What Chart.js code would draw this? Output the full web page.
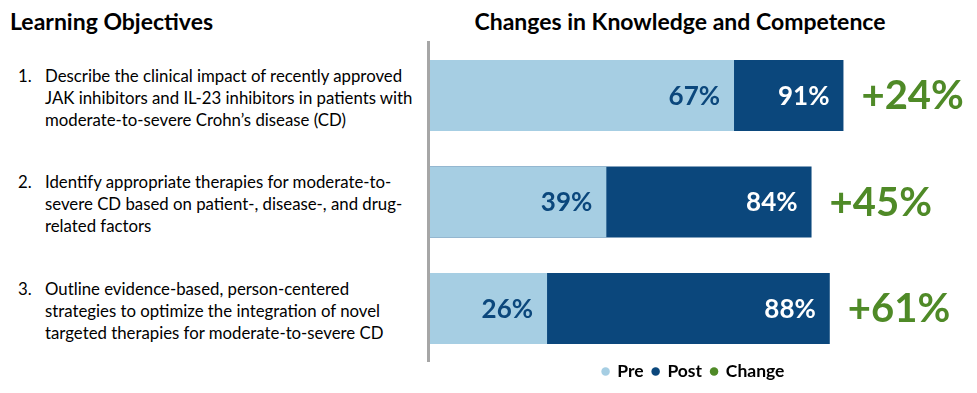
<!DOCTYPE html>
<html>
<head>
<meta charset="utf-8">
<script src="https://cdn.jsdelivr.net/npm/chart.js@4.4.0/dist/chart.umd.min.js"></script>
<style>
  html, body { margin: 0; padding: 0; background: #fff; }
  #wrap { position: relative; width: 977px; height: 393px; overflow: hidden; font-family: Lato, sans-serif; color: #000; }
  #chart { position: absolute; left: 0; top: 0; }
  .head { position: absolute; top: 7px; font-size: 23px; line-height: 28px; font-weight: bold; white-space: nowrap; }
  .obj { position: absolute; left: 0; font-size: 16.8px; line-height: 22px; white-space: nowrap; }
  .obj .num { position: absolute; left: 18px; top: 0; }
  .obj .txt { position: absolute; left: 45px; top: 0; }
</style>
</head>
<body>
<div id="wrap">
  <div class="head" style="left:10px">Learning Objectives</div>
  <div class="head" style="left:680px; transform:translateX(-50%)">Changes in Knowledge and Competence</div>
  <div id="objectives"></div>
  <canvas id="chart" width="977" height="393"></canvas>
</div>
<script>
// learning objectives (one per bar), line breaks as in the slide
const objectives = [
  ['Describe the clinical impact of recently approved',
   'JAK inhibitors and IL-23 inhibitors in patients with',
   'moderate-to-severe Crohn\u2019s disease (CD)'],
  ['Identify appropriate therapies for moderate-to-',
   'severe CD based on patient-, disease-, and drug-',
   'related factors'],
  ['Outline evidence-based, person-centered',
   'strategies to optimize the integration of novel',
   'targeted therapies for moderate-to-severe CD']
];
const objectiveTops = [64.5, 170.5, 277.5];

const categories = ['1', '2', '3'];
const preValues = [67, 39, 26];
const postValues = [91, 84, 88];
const changeValues = [24, 45, 61];

const seriesNames = ['Pre', 'Post', 'Change'];
const colors = { pre: '#A6CEE3', post: '#0B477C', change: '#4F8A27' };

// left column text
const objBox = document.getElementById('objectives');
objectives.forEach((lines, i) => {
  const d = document.createElement('div');
  d.className = 'obj';
  d.style.top = objectiveTops[i] + 'px';
  d.innerHTML = '<span class="num">' + (i + 1) + '.</span><span class="txt">' + lines.join('<br>') + '</span>';
  objBox.appendChild(d);
});

// value labels inside the bars + change labels right of them
const barLabels = {
  id: 'barLabels',
  afterDatasetsDraw(chart) {
    const ctx = chart.ctx;
    ctx.save();
    ctx.textBaseline = 'middle';
    chart.data.datasets.forEach((ds, di) => {
      const meta = chart.getDatasetMeta(di);
      meta.data.forEach((bar, i) => {
        ctx.font = 'bold 26px Lato';
        ctx.textAlign = 'right';
        ctx.fillStyle = di === 0 ? colors.post : '#fff';
        ctx.fillText(ds.data[i] + '%', bar.x - 14, bar.y + 1);
        if (di === 1) {
          ctx.font = 'bold 40px Lato';
          ctx.textAlign = 'left';
          ctx.fillStyle = colors.change;
          ctx.fillText('+' + changeValues[i] + '%', bar.x + 18, bar.y + 1);
        }
      });
    });
    ctx.restore();
  }
};

// put the legend where the slide has it
const legendNudge = {
  id: 'legendNudge',
  afterLayout(chart) {
    const lg = chart.legend;
    const dx = 693.5 - (lg.left + lg.right) / 2;
    const dy = 371.5 - (chart.chartArea.bottom + 9 + 8.75);
    lg.left += dx; lg.right += dx;
    lg.top += dy; lg.bottom += dy;
  }
};

new Chart(document.getElementById('chart'), {
  type: 'bar',
  data: {
    labels: categories,
    datasets: [
      { label: seriesNames[0], data: preValues, backgroundColor: colors.pre },
      { label: seriesNames[1], data: postValues, backgroundColor: colors.post }
    ]
  },
  options: {
    indexAxis: 'y',
    responsive: false,
    animation: false,
    grouped: false,
    barPercentage: 0.667,
    categoryPercentage: 1,
    layout: { padding: { left: 428.5, right: 92.5, top: 42.25, bottom: -5.25 } },
    scales: {
      x: { display: false, min: 0, max: 100 },
      y: {
        position: 'left',
        ticks: { display: false },
        grid: { display: false, drawTicks: false },
        border: { display: true, color: '#A6A6A6', width: 3, z: 1 }
      }
    },
    plugins: {
      title: { display: false },
      tooltip: { enabled: false },
      legend: {
        position: 'bottom',
        labels: {
          usePointStyle: true,
          pointStyle: 'circle',
          boxWidth: 6,
          boxHeight: 6,
          padding: 9,
          color: '#000',
          font: { family: 'Lato', size: 17.5, weight: 'bold' },
          generateLabels: () => seriesNames.map((name) => ({
            text: name,
            fillStyle: colors[name.toLowerCase()],
            strokeStyle: colors[name.toLowerCase()],
            lineWidth: 0,
            pointStyle: 'circle',
            hidden: false
          }))
        }
      }
    }
  },
  plugins: [barLabels, legendNudge]
});
</script>
</body>
</html>
